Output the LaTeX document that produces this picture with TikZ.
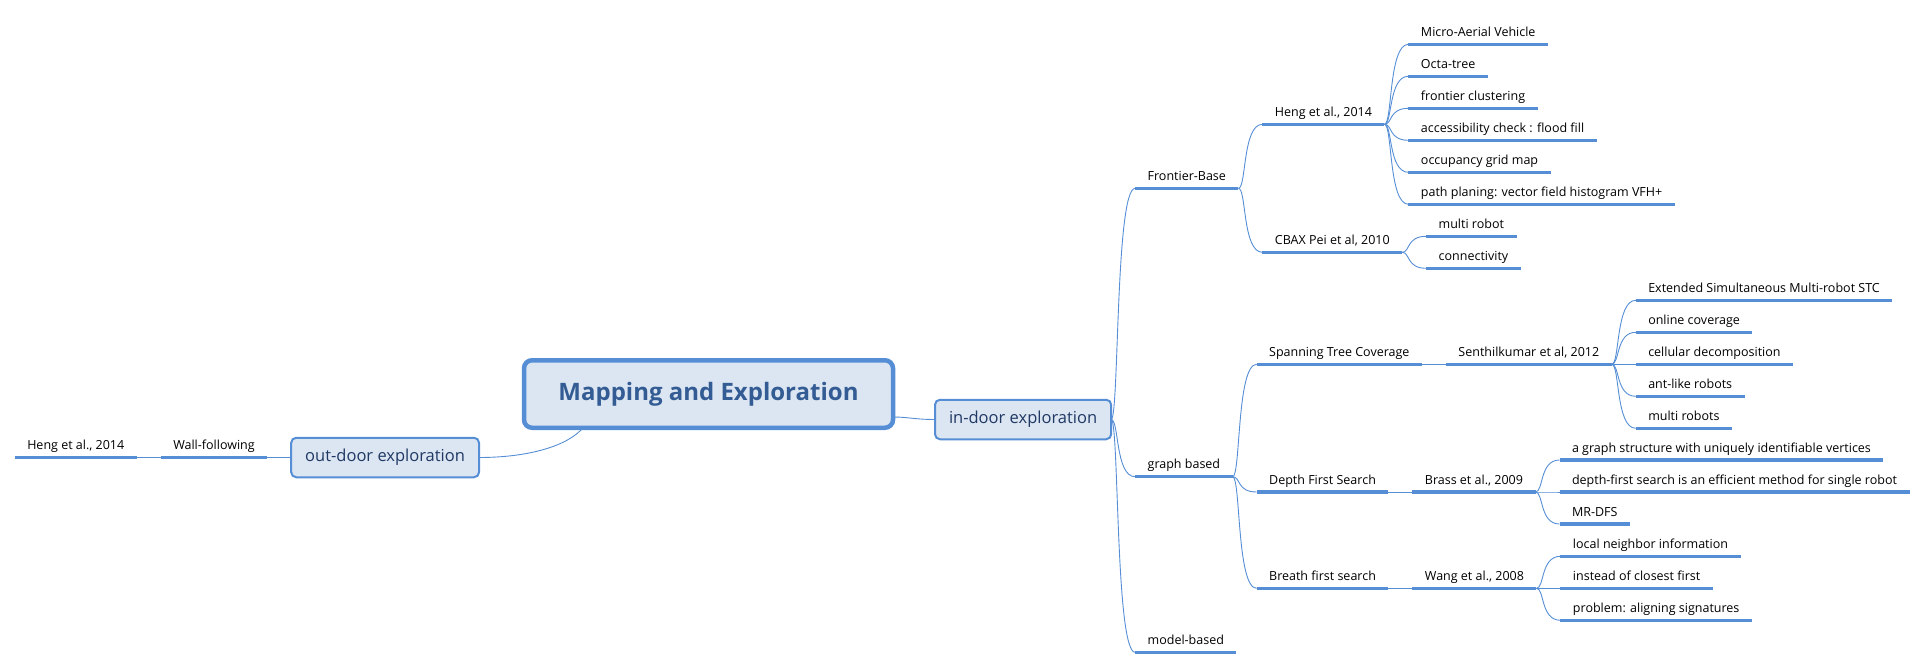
\documentclass[tikz,border=0pt]{standalone}
\usepackage{fontspec}
\setmainfont{Open Sans}
\usepackage{xcolor}
\usetikzlibrary{positioning}

\definecolor{mapblue}{RGB}{85,142,213}
\definecolor{mapfill}{RGB}{220,230,242}
\definecolor{maptext}{RGB}{51,92,148}
\definecolor{subtext}{RGB}{31,56,100}

\newcommand{\branch}[2]{\draw[conn] (#1) .. controls +(8,0) and +(-20,0) .. (#2);}

\begin{document}
\begin{tikzpicture}[x=1pt,y=-1pt,
  every node/.style={outer sep=0pt},
  central/.style={draw=mapblue, line width=4.5pt, fill=mapfill, rounded corners=8pt,
    minimum width=369pt, minimum height=67.5pt, inner sep=0pt, text=maptext,
    font=\fontsize{24}{28}\selectfont\bfseries},
  subtopic/.style={draw=mapblue, line width=2pt, fill=mapfill, rounded corners=5pt,
    minimum height=39.5pt, inner xsep=14pt, text=subtext,
    font=\fontsize{16.5}{20}\selectfont},
  topic/.style={anchor=south west, inner xsep=12.5pt, inner ysep=8pt, text depth=0pt,
    font=\fontsize{12.5}{15}\selectfont,
    append after command={(\tikzlastnode.south west) edge[uline] (\tikzlastnode.south east)}},
  ltopic/.style={topic, anchor=south east},
  conn/.style={draw=mapblue, line width=0.9pt},
  uline/.style={draw=mapblue, line width=3.5pt}]
\useasboundingbox (0,0) rectangle (1930,669);

% main topics
\node[central] (map) at (708.5,394) {Mapping and Exploration};
\node[subtopic, right=42pt of map, yshift=-25.5pt] (indoor) {in-door exploration};
\node[subtopic, left=45pt of map, yshift=-63.5pt] (outdoor) {out-door exploration};
\draw[conn] ([yshift=-23pt]map.east) .. controls +(15,0) and +(-20,0) .. (indoor.west);
\draw[conn] ([xshift=-125.5pt]map.south) .. controls +(-15,18) and +(50,0) .. (outdoor.east);

% out-door
\node[ltopic] (wall) at ([xshift=-24pt]outdoor.west) {Wall-following};
\node[ltopic] (hengout) at ([xshift=-24pt]wall.south west) {Heng et al., 2014};
\draw[conn] (outdoor.west) -- (wall.south east);
\draw[conn] (wall.south west) -- (hengout.south east);

% in-door
\node[topic] (frontier) at ([shift={(24,-231.2)}]indoor.east) {Frontier-Base};
\node[topic] (graph) at ([shift={(24,57.2)}]indoor.east) {graph based};
\node[topic] (model) at ([shift={(24,232.8)}]indoor.east) {model-based};
\branch{indoor.east}{frontier.south west}
\branch{indoor.east}{graph.south west}
\branch{indoor.east}{model.south west}

% frontier based
\node[topic] (heng) at ([shift={(24,-64)}]frontier.south east) {Heng et al., 2014};
\node[topic] (cbax) at ([shift={(24,64)}]frontier.south east) {CBAX Pei et al, 2010};
\branch{frontier.south east}{heng.south west}
\branch{frontier.south east}{cbax.south west}
\foreach \txt [count=\i] in {Micro-Aerial Vehicle, Octa-tree, frontier clustering,
    accessibility check : flood fill, occupancy grid map,
    path planing: vector field histogram VFH+} {
  \node[topic] (heng\i) at ([shift={(24,-112+32*\i)}]heng.south east) {\txt};
  \branch{heng.south east}{heng\i.south west}
}
\foreach \txt [count=\i] in {multi robot, connectivity} {
  \node[topic] (cbax\i) at ([shift={(24,-48+32*\i)}]cbax.south east) {\txt};
  \branch{cbax.south east}{cbax\i.south west}
}

% graph based
\node[topic] (span) at ([shift={(24,-112.4)}]graph.south east) {Spanning Tree Coverage};
\node[topic] (dfs) at ([shift={(24,15.3)}]graph.south east) {Depth First Search};
\node[topic] (bfs) at ([shift={(24,111.6)}]graph.south east) {Breath first search};
\branch{graph.south east}{span.south west}
\branch{graph.south east}{dfs.south west}
\branch{graph.south east}{bfs.south west}
\node[topic] (senthil) at ([xshift=24pt]span.south east) {Senthilkumar et al, 2012};
\node[topic] (brass) at ([xshift=24pt]dfs.south east) {Brass et al., 2009};
\node[topic] (wang) at ([xshift=24pt]bfs.south east) {Wang et al., 2008};
\draw[conn] (span.south east) -- (senthil.south west);
\draw[conn] (dfs.south east) -- (brass.south west);
\draw[conn] (bfs.south east) -- (wang.south west);
\foreach \txt [count=\i] in {Extended Simultaneous Multi-robot STC, online coverage,
    cellular decomposition, ant-like robots, multi robots} {
  \node[topic] (senthil\i) at ([shift={(24,-96+32*\i)}]senthil.south east) {\txt};
  \branch{senthil.south east}{senthil\i.south west}
}
\foreach \txt [count=\i] in {a graph structure with uniquely identifiable vertices,
    depth-first search is an efficient method for single robot, MR-DFS} {
  \node[topic] (brass\i) at ([shift={(24,-64+32*\i)}]brass.south east) {\txt};
  \branch{brass.south east}{brass\i.south west}
}
\foreach \txt [count=\i] in {local neighbor information, instead of closest first,
    problem: aligning signatures} {
  \node[topic] (wang\i) at ([shift={(24,-64+32*\i)}]wang.south east) {\txt};
  \branch{wang.south east}{wang\i.south west}
}
\end{tikzpicture}
\end{document}
